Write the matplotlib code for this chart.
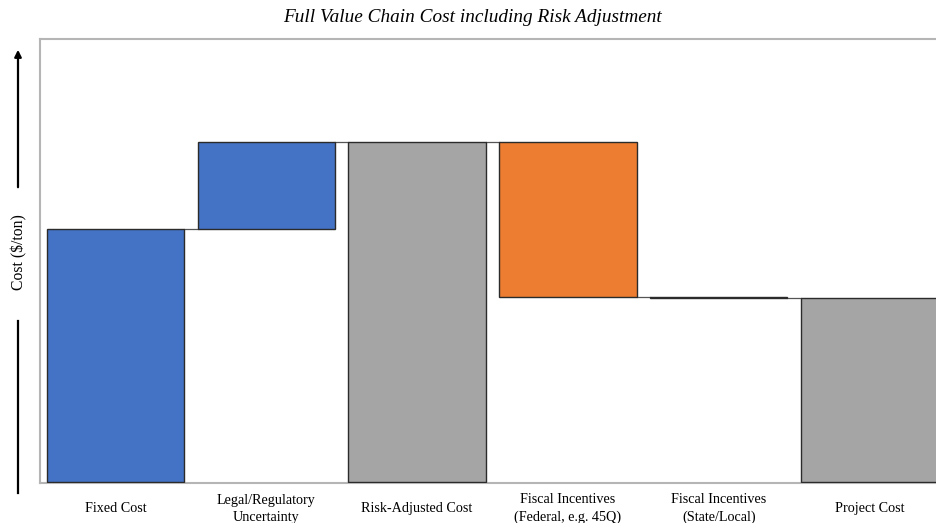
import matplotlib
matplotlib.use("Agg")
import matplotlib.pyplot as plt
from matplotlib.lines import Line2D
from matplotlib.patches import FancyArrowPatch

# Waterfall data (cost in $/ton, relative units)
categories = ["Fixed Cost", "Legal/Regulatory\nUncertainty", "Risk-Adjusted Cost",
              "Fiscal Incentives\n(Federal, e.g. 45Q)", "Fiscal Incentives\n(State/Local)",
              "Project Cost"]
changes = [253, 88, 0, -156, -1, 0]
is_total = [False, False, True, False, False, True]
colors = ["#4472C4", "#4472C4", "#A5A5A5", "#ED7D31", "#ED7D31", "#A5A5A5"]

# Running sum to get bar bottoms and heights
bottoms, heights, levels = [], [], []
running = 0
for c, tot in zip(changes, is_total):
    if tot:
        bottoms.append(0)
        heights.append(running)
    else:
        new = running + c
        bottoms.append(min(running, new))
        heights.append(abs(c))
        running = new
    levels.append(running)

W, H = 937, 523
fig = plt.figure(figsize=(W / 100, H / 100), dpi=100)
ax = fig.add_axes([40 / W, (H - 483) / H, (945 - 40) / W, (483 - 39) / H])

x = list(range(len(categories)))
ax.bar(x, heights, bottom=bottoms, width=0.91, color=colors,
       edgecolor="#2b2b2b", linewidth=1.0, zorder=3)

# Connector lines between consecutive bars
for i in range(len(x) - 1):
    ax.plot([i + 0.455, i + 1 - 0.455], [levels[i], levels[i]],
            color="#555555", linewidth=0.9, zorder=2)

ax.set_xlim(-0.5, 5.5)
ax.set_ylim(-1.5, 444)
ax.set_yticks([])
ax.set_xticks(x)
ax.set_xticklabels(categories, fontfamily="Liberation Serif", fontsize=10.2,
                   linespacing=1.42, va="center")
ax.tick_params(axis="x", length=0, pad=18.6)
for s in ax.spines.values():
    s.set_color("#b5b5b5")
    s.set_linewidth(1.5)

fig.text(472 / W, 1 - 17 / H, "Full Value Chain Cost including Risk Adjustment",
         ha="center", va="center", fontfamily="Liberation Serif",
         fontstyle="italic", fontsize=13.9)

# Y-axis label with an upward arrow
fig.text(19 / W, 1 - 252 / H, "Cost ($/ton)", rotation=90, ha="center",
         va="center", fontfamily="Liberation Serif", fontsize=11.3)
fig.add_artist(Line2D([18 / W, 18 / W], [1 - 493 / H, 1 - 321 / H],
                      color="black", linewidth=1.6))
fig.add_artist(FancyArrowPatch(
    (18 / W, 1 - 190 / H), (18 / W, 1 - 47 / H), transform=fig.transFigure,
    arrowstyle="-|>", mutation_scale=10, color="black", linewidth=1.6))

fig.savefig("out.png", dpi=100)
